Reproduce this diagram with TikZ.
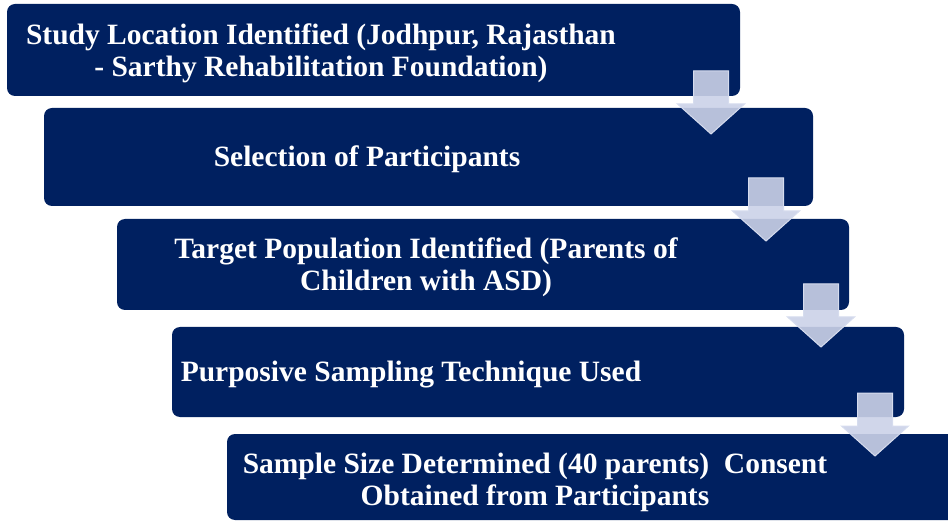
\documentclass[tikz,border=0pt]{standalone}
\usepackage{fontspec}
\setmainfont{Liberation Serif}
\definecolor{navy}{RGB}{0,32,96}
\definecolor{arrowfill}{RGB}{203,210,232}
\definecolor{arrowline}{RGB}{214,220,238}
\begin{document}
\begin{tikzpicture}[x=1pt,y=-1pt,
  box/.style={fill=navy, draw=none, rounded corners=8pt, inner sep=0pt},
  txt/.style={text=white, font=\bfseries\fontsize{29.5}{32}\selectfont, align=center, inner sep=0pt},
  blockarrow/.style={fill=arrowfill, fill opacity=0.9, draw=arrowline, line width=1pt}]
\useasboundingbox (0,0) rectangle (948,521);
\node[box, minimum width=733pt, minimum height=92pt] (b1) at (373.5,50) {};
\node[box, minimum width=769pt, minimum height=98pt] (b2) at (428.5,157) {};
\node[box, minimum width=732pt, minimum height=91pt] (b3) at (483,264.5) {};
\node[box, minimum width=732pt, minimum height=90pt] (b4) at (538,372) {};
\node[box, minimum width=740pt, minimum height=86pt] (b5) at (597,477) {};
\node[txt] (t1) at (321,53) {Study Location Identified (Jodhpur, Rajasthan\\- Sarthy Rehabilitation Foundation)};
\node[txt] (t2) at (367,159) {Selection of Participants};
\node[txt] (t3) at (426,267) {Target Population Identified (Parents of\\Children with ASD)};
\node[txt] (t4) at (411,375) {Purposive Sampling Technique Used};
\node[txt] (t5) at (535,482) {Sample Size Determined (40 parents)~~Consent\\Obtained from Participants};
% block arrows
\foreach \n/\cx/\ty in {a1/711/71, a2/766/178, a3/821/284, a4/875/393}{
  \coordinate (\n) at (\cx,\ty);
  \draw[blockarrow] ([xshift=-17.5pt]\n) -- ([xshift=17.5pt]\n) -- ([xshift=17.5pt,yshift=-33pt]\n)
    -- ([xshift=33.5pt,yshift=-33pt]\n) -- ([yshift=-63pt]\n) -- ([xshift=-33.5pt,yshift=-33pt]\n)
    -- ([xshift=-17.5pt,yshift=-33pt]\n) -- cycle;
}
\end{tikzpicture}
\end{document}
